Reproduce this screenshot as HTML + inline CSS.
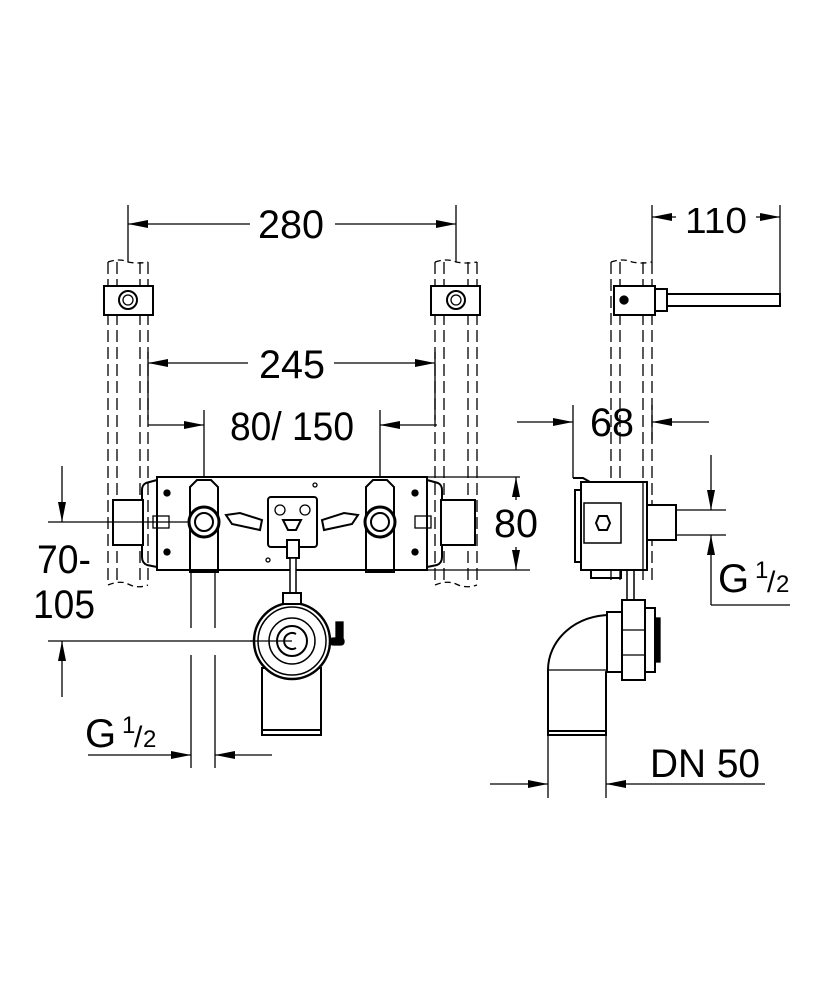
<!DOCTYPE html>
<html><head><meta charset="utf-8"><style>
html,body{margin:0;padding:0;background:#fff;}
svg{display:block;}
text{font-family:"Liberation Sans",sans-serif;fill:#000;}
</style></head><body>
<svg width="834" height="1000" viewBox="0 0 834 1000" xmlns="http://www.w3.org/2000/svg">
<defs>
<marker id="a" viewBox="0 0 20 8" refX="20" refY="4" markerWidth="20" markerHeight="8" orient="auto" markerUnits="userSpaceOnUse"><path d="M0,0 L20,4 L0,8 Z" fill="#000"/></marker>
</defs>
<g stroke="#000" stroke-width="1.3" fill="none">
<!-- 280 -->
<line x1="128" y1="205" x2="128" y2="262"/><line x1="456" y1="205" x2="456" y2="262"/>
<line x1="250" y1="224" x2="128" y2="224" marker-end="url(#a)"/>
<line x1="335" y1="224" x2="456" y2="224" marker-end="url(#a)"/>
<!-- 110 -->
<line x1="652" y1="205" x2="652" y2="262"/><line x1="780" y1="205" x2="780" y2="298"/>
<line x1="676" y1="217" x2="652" y2="217" marker-end="url(#a)"/>
<line x1="756" y1="217" x2="780" y2="217" marker-end="url(#a)"/>
<!-- posts left -->
<g stroke-dasharray="12,5">
<line x1="108" y1="262" x2="108" y2="585"/><line x1="117" y1="262" x2="117" y2="585"/>
<line x1="140" y1="262" x2="140" y2="585"/><line x1="148" y1="262" x2="148" y2="585"/>
<line x1="435" y1="262" x2="435" y2="585"/><line x1="444" y1="262" x2="444" y2="585"/>
<line x1="468" y1="262" x2="468" y2="585"/><line x1="477" y1="262" x2="477" y2="585"/>
<line x1="611" y1="262" x2="611" y2="585"/><line x1="620" y1="262" x2="620" y2="585"/>
<line x1="643" y1="262" x2="643" y2="585"/><line x1="652" y1="262" x2="652" y2="585"/>
</g>
<path d="M108,262 Q120,258 128,262 Q138,264 148,262" stroke-dasharray="6,4"/>
<path d="M435,262 Q447,258 456,262 Q466,264 477,262" stroke-dasharray="6,4"/>
<path d="M611,262 Q623,258 632,262 Q642,264 652,262" stroke-dasharray="6,4"/>
<path d="M108,585 Q120,580 128,584 Q138,589 148,585" stroke-dasharray="6,4"/>
<path d="M435,585 Q447,580 456,584 Q466,589 477,585" stroke-dasharray="6,4"/>
<!-- brackets -->
<g stroke-width="2">
<rect x="104" y="286" width="49" height="29" fill="#fff"/>
<rect x="431" y="286" width="49" height="29" fill="#fff"/>
<rect x="614" y="286" width="41" height="29" fill="#fff"/>
</g>
<circle cx="128" cy="300" r="9" stroke-width="2"/><circle cx="128" cy="300" r="5"/>
<circle cx="456" cy="300" r="9" stroke-width="2"/><circle cx="456" cy="300" r="5"/>
<circle cx="624" cy="300" r="4" fill="#000"/>
<rect x="655" y="289" width="12" height="22" stroke-width="2" fill="#fff"/>
<rect x="667" y="294" width="113" height="12" stroke-width="2"/>
<!-- 245 -->
<line x1="148" y1="352" x2="148" y2="420"/><line x1="435" y1="352" x2="435" y2="420"/>
<line x1="248" y1="363" x2="148" y2="363" marker-end="url(#a)"/>
<line x1="334" y1="363" x2="435" y2="363" marker-end="url(#a)"/>
<!-- 80/150 -->
<line x1="204" y1="410" x2="204" y2="522"/><line x1="380" y1="410" x2="380" y2="522"/>
<line x1="148" y1="425" x2="204" y2="425" marker-end="url(#a)"/>
<line x1="437" y1="425" x2="380" y2="425" marker-end="url(#a)"/>
<!-- plate -->
<rect x="157" y="477" width="270" height="93" stroke-width="2" fill="#fff"/>
<path d="M157,480 L146,483 Q142,485 142,490 L142,557 Q142,563 147,565 L157,567" stroke-width="2"/>
<path d="M427,480 L438,483 Q442,485 442,490 L442,557 Q442,563 437,565 L427,567" stroke-width="2"/>
<rect x="113" y="500" width="30" height="45" stroke-width="2" fill="#fff"/>
<rect x="441" y="500" width="34" height="45" stroke-width="2" fill="#fff"/>
<line x1="48" y1="522" x2="204" y2="522"/>
<line x1="520" y1="477" x2="427" y2="477"/><line x1="530" y1="570" x2="427" y2="570"/>
<!-- valves -->
<path d="M190,487 L197,480 L211,480 L218,487 L218,572 L190,572 Z" stroke-width="2" fill="#fff"/>
<path d="M366,487 L373,480 L387,480 L394,487 L394,572 L366,572 Z" stroke-width="2" fill="#fff"/>
<circle cx="204" cy="522" r="15" stroke-width="3" fill="#fff"/><circle cx="204" cy="522" r="9" stroke-width="2"/>
<circle cx="380" cy="522" r="15" stroke-width="3" fill="#fff"/><circle cx="380" cy="522" r="9" stroke-width="2"/>
<line x1="190" y1="571" x2="218" y2="571" stroke-width="4"/><line x1="366" y1="571" x2="394" y2="571" stroke-width="4"/>
<path d="M226,515 L240,513 L262,520 L260,530 L232,524 Z" stroke-width="2"/>
<path d="M358,515 L344,513 L322,520 L324,530 L352,524 Z" stroke-width="2"/>
<rect x="268" y="497" width="49" height="50" rx="3" stroke-width="2" fill="#fff"/>
<circle cx="280" cy="510" r="5"/><circle cx="305" cy="510" r="5"/>
<path d="M283,520 L301,520 L296,530 L288,530 Z" stroke-width="2"/>
<rect x="287" y="540" width="12" height="18" stroke-width="2" fill="#fff"/>
<rect x="290" y="558" width="6" height="36" stroke-width="1.5" fill="#fff"/>
<circle cx="167" cy="493" r="3" fill="#000"/><circle cx="167" cy="552" r="3" fill="#000"/>
<circle cx="415" cy="493" r="3" fill="#000"/><circle cx="415" cy="552" r="3" fill="#000"/>
<circle cx="315" cy="485" r="2"/><circle cx="268" cy="560" r="2"/>
<rect x="153" y="516" width="16" height="12"/><rect x="415" y="516" width="16" height="12"/>
<!-- 80 -->
<line x1="516" y1="500" x2="516" y2="477" marker-end="url(#a)"/>
<line x1="516" y1="547" x2="516" y2="570" marker-end="url(#a)"/>
<!-- 70-105 -->
<line x1="62" y1="466" x2="62" y2="522" marker-end="url(#a)"/>
<line x1="62" y1="697" x2="62" y2="641" marker-end="url(#a)"/>
<line x1="48" y1="641" x2="290" y2="641"/>
<!-- pipes -->
<line x1="191" y1="572" x2="191" y2="628"/><line x1="215" y1="572" x2="215" y2="628"/>
<line x1="191" y1="655" x2="191" y2="768"/><line x1="215" y1="655" x2="215" y2="768"/>
<line x1="88" y1="755" x2="191" y2="755" marker-end="url(#a)"/>
<line x1="272" y1="755" x2="215" y2="755" marker-end="url(#a)"/>
<!-- siphon -->
<rect x="262" y="668" width="59" height="67" stroke-width="2" fill="#fff"/>
<line x1="262" y1="730" x2="321" y2="730" stroke-width="2"/>
<circle cx="292" cy="641" r="38" stroke-width="2.5" fill="#fff"/>
<circle cx="292" cy="641" r="34" stroke-width="1.5"/>
<circle cx="292" cy="641" r="23" stroke-width="1.5"/>
<circle cx="292" cy="641" r="15" stroke-width="2"/>
<path d="M296,634 A8,8 0 1 0 296,648" stroke-width="2"/>
<line x1="250" y1="641" x2="292" y2="641"/>
<rect x="283" y="593" width="18" height="11" stroke-width="2" fill="#fff"/>
<rect x="336" y="622" width="7" height="20" fill="#000"/>
<rect x="330" y="638" width="14" height="7" rx="3" fill="#000"/>
<!-- side view -->
<line x1="573" y1="405" x2="573" y2="478"/><line x1="652" y1="405" x2="652" y2="440"/>
<line x1="517" y1="422" x2="573" y2="422" marker-end="url(#a)"/>
<line x1="709" y1="422" x2="652" y2="422" marker-end="url(#a)"/>
<rect x="581" y="482" width="66" height="88" stroke-width="2" fill="#fff"/>
<path d="M573,478 L583,478 L590,482" stroke-width="2"/>
<rect x="575" y="490" width="6" height="72" stroke-width="2"/>
<rect x="584" y="503" width="37" height="40" stroke-width="1.5"/>
<polygon points="596,523 599,516 607,516 610,523 607,530 599,530" stroke-width="2"/>
<rect x="591" y="570" width="30" height="8" stroke-width="2"/>
<line x1="643" y1="482" x2="643" y2="570"/>
<rect x="647" y="505" width="29" height="35" stroke-width="2" fill="#fff"/>
<line x1="676" y1="510" x2="726" y2="510"/><line x1="676" y1="535" x2="726" y2="535"/>
<line x1="711" y1="455" x2="711" y2="510" marker-end="url(#a)"/>
<line x1="711" y1="605" x2="711" y2="535" marker-end="url(#a)"/>
<line x1="711" y1="605" x2="790" y2="605"/>
<rect x="627" y="570" width="7" height="30" stroke-width="1.5"/>
<!-- elbow -->
<path d="M548,735 L548,670 A62,55 0 0 1 610,615 L610,670 L606,672 L606,735 Z" stroke-width="2" fill="#fff"/>
<line x1="548" y1="670" x2="606" y2="670"/>
<line x1="548" y1="731" x2="606" y2="731" stroke-width="2"/>
<rect x="607" y="612" width="15" height="60" stroke-width="2" fill="#fff"/>
<rect x="622" y="600" width="23" height="80" stroke-width="2" fill="#fff"/>
<line x1="622" y1="630" x2="645" y2="630"/><line x1="622" y1="655" x2="645" y2="655"/>
<rect x="645" y="608" width="10" height="64" stroke-width="2" fill="#fff"/>
<rect x="655" y="618" width="5" height="44" fill="#000"/>
<line x1="548" y1="735" x2="548" y2="798"/><line x1="606" y1="735" x2="606" y2="798"/>
<line x1="490" y1="784" x2="548" y2="784" marker-end="url(#a)"/>
<line x1="765" y1="784" x2="606" y2="784" marker-end="url(#a)"/>
</g>
<g font-size="40">
<text x="291" y="238" text-anchor="middle" textLength="66" lengthAdjust="spacingAndGlyphs">280</text>
<text x="716" y="233" text-anchor="middle" font-size="36" textLength="62" lengthAdjust="spacingAndGlyphs">110</text>
<text x="292" y="378" text-anchor="middle" textLength="66" lengthAdjust="spacingAndGlyphs">245</text>
<text x="292" y="440" text-anchor="middle" textLength="124" lengthAdjust="spacingAndGlyphs">80/ 150</text>
<text x="612" y="436" text-anchor="middle" textLength="44" lengthAdjust="spacingAndGlyphs">68</text>
<text x="516" y="537" text-anchor="middle" textLength="44" lengthAdjust="spacingAndGlyphs">80</text>
<text x="37" y="573" textLength="54" lengthAdjust="spacingAndGlyphs">70-</text>
<text x="33" y="618" textLength="62" lengthAdjust="spacingAndGlyphs">105</text>
<text x="85" y="747">G</text>
<text x="122" y="733" font-size="24">1</text>
<text x="134" y="747" font-size="30">/</text>
<text x="143" y="747" font-size="24">2</text>
<text x="718" y="592">G</text>
<text x="755" y="578" font-size="24">1</text>
<text x="767" y="592" font-size="30">/</text>
<text x="776" y="592" font-size="24">2</text>
<text x="650" y="777" textLength="110" lengthAdjust="spacingAndGlyphs">DN 50</text>
</g>
</svg>
</body></html>
